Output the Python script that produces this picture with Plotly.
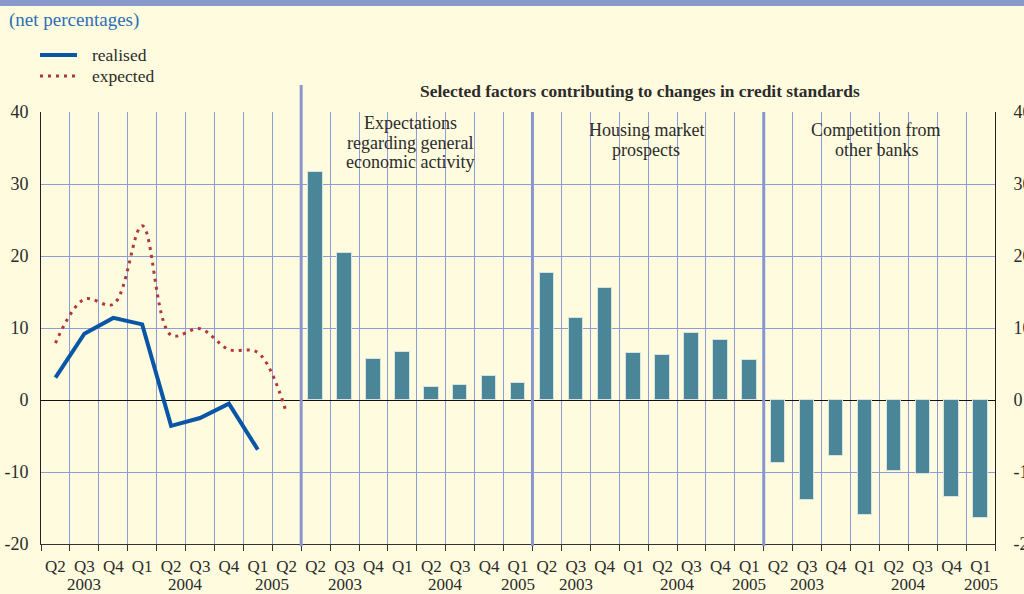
import plotly.graph_objects as go

# ---------------- data ----------------
quarters_left = ["Q2", "Q3", "Q4", "Q1", "Q2", "Q3", "Q4", "Q1", "Q2"]
years_left = [("2003", 1.5), ("2004", 5.0), ("2005", 8.0)]
realised = [3.1, 9.2, 11.4, 10.5, -3.6, -2.5, -0.5, -6.9, None]
expected = [7.9, 14.0, 13.3, 24.2, 9.0, 9.9, 7.0, 6.6, -1.9]

quarters_bar = ["Q2", "Q3", "Q4", "Q1", "Q2", "Q3", "Q4", "Q1"]
years_bar = [("2003", 1.5), ("2004", 5.0), ("2005", 7.5)]
group_names = [["Expectations", "regarding general", "economic activity"],
               ["Housing market", "prospects"],
               ["Competition from", "other banks"]]
expectations_econ = [31.6, 20.4, 5.7, 6.7, 1.8, 2.1, 3.3, 2.4]
housing_market = [17.6, 11.4, 15.6, 6.5, 6.2, 9.3, 8.4, 5.6]
competition = [-8.8, -13.9, -7.8, -16.0, -9.8, -10.3, -13.5, -16.4]
bar_groups = [expectations_econ, housing_market, competition]

y_ticks = [40, 30, 20, 10, 0, -10, -20]
y_ticktext = ["40", "30", "20", "10", "0", "-10", "-20"]

# ---------------- style ----------------
BG = "#FFFBDE"
GRID = "#8E9CDA"
DIVIDER = "#8A97CF"
BAR = "#4A8698"
BLUE = "#0A56A6"
RED = "#B0383A"
TXT = "#2B2B2B"
FONT = "Liberation Serif"

W, H = 1024, 594
ML, MR, MT, MB = 41, 29, 112, 50
PW, PH = W - ML - MR, H - MT - MB


def px(xp):
    return (xp - ML) / PW


def py(yp):
    return (H - MB - yp) / PH


n_left = len(quarters_left)
n_bar = len(quarters_bar)
offsets = [n_left + g * n_bar for g in range(len(bar_groups))]
x_max = n_left + n_bar * len(bar_groups)

fig = go.Figure()

left_x = [i + 0.5 for i in range(n_left)]
fig.add_trace(go.Scatter(x=left_x, y=realised, mode="lines", name="realised",
                         line=dict(color=BLUE, width=4), connectgaps=False,
                         showlegend=False))
fig.add_trace(go.Scatter(x=left_x, y=expected, mode="lines", name="expected",
                         line=dict(color=RED, width=3, dash="3px,5px",
                                   shape="spline", smoothing=1.0),
                         showlegend=False))

for off, vals in zip(offsets, bar_groups):
    fig.add_trace(go.Bar(x=[off + i + 0.5 for i in range(n_bar)], y=vals,
                         width=0.5, marker=dict(color=BAR, line=dict(color="#D6E2E6", width=1)),
                         showlegend=False, hoverinfo="y"))

# invisible trace for right axis
fig.add_trace(go.Scatter(x=[0.5], y=[0], yaxis="y2", mode="markers",
                         marker=dict(opacity=0), showlegend=False, hoverinfo="skip"))

all_centers = left_x[:]
all_labels = quarters_left[:]
for off in offsets:
    all_centers += [off + i + 0.5 for i in range(n_bar)]
    all_labels += quarters_bar

annotations = []
year_y = py(584)
for lab, xv in years_left:
    annotations.append(dict(x=xv, y=year_y, xref="x", yref="paper", text=lab,
                            showarrow=False, yanchor="middle",
                            font=dict(family=FONT, size=17, color=TXT)))
for off in offsets:
    for lab, xv in years_bar:
        annotations.append(dict(x=off + xv, y=year_y, xref="x", yref="paper", text=lab,
                                showarrow=False, yanchor="middle",
                                font=dict(family=FONT, size=17, color=TXT)))

group_label_pos = [(12.77, [123, 143, 162]), (20.93, [130, 150]), (28.9, [130, 150])]
for lines, (gx, ys) in zip(group_names, group_label_pos):
    for line_txt, gy in zip(lines, ys):
        annotations.append(dict(x=gx, y=py(gy), xref="x", yref="paper",
                                text=line_txt, showarrow=False, yanchor="middle",
                                font=dict(family=FONT, size=18, color=TXT)))

annotations.append(dict(x=px(640), y=py(91), xref="paper", yref="paper",
                        text="<b>Selected factors contributing to changes in credit standards</b>",
                        showarrow=False, yanchor="middle",
                        font=dict(family=FONT, size=17.4, color=TXT)))
annotations.append(dict(x=px(7), y=py(20), xref="paper", yref="paper",
                        text="(net percentages)", showarrow=False,
                        xanchor="left", yanchor="middle",
                        font=dict(family=FONT, size=19, color="#2C6FB7")))
# legend texts
for txt, ly in [("realised", 55), ("expected", 76)]:
    annotations.append(dict(x=px(90), y=py(ly), xref="paper", yref="paper",
                            text=txt, showarrow=False, xanchor="left", yanchor="middle",
                            font=dict(family=FONT, size=17.5, color=TXT)))

shapes = []
shapes.append(dict(type="rect", xref="paper", yref="paper", x0=px(0), x1=px(W),
                   y0=py(0), y1=py(6), fillcolor="#8A99CB",
                   line=dict(width=0), layer="below"))
# legend samples
shapes.append(dict(type="line", xref="paper", yref="paper", x0=px(40), x1=px(77),
                   y0=py(55), y1=py(55), line=dict(color=BLUE, width=4)))
shapes.append(dict(type="line", xref="paper", yref="paper", x0=px(40), x1=px(79),
                   y0=py(76), y1=py(76), line=dict(color=RED, width=3, dash="3px,5px")))
for k, off in enumerate(offsets):
    top = py(85) if k == 0 else 1.0
    shapes.append(dict(type="line", xref="x", yref="paper", x0=off, x1=off, y0=-0.005, y1=top,
                       line=dict(color=DIVIDER, width=3), layer="above"))

fig.update_layout(
    width=W, height=H,
    paper_bgcolor=BG, plot_bgcolor=BG,
    margin=dict(l=ML, r=MR, t=MT, b=MB, autoexpand=False),
    font=dict(family=FONT, size=17, color=TXT),
    bargap=0,
    showlegend=False,
    xaxis=dict(range=[0, x_max], tickmode="array", tickvals=all_centers, ticktext=all_labels,
               ticks="", showgrid=False, zeroline=False, automargin=False,
               showline=True, linecolor="#333333", linewidth=1,
               ticklabelstandoff=7,
               tickfont=dict(family=FONT, size=17, color=TXT),
               minor=dict(tick0=0, dtick=1, ticks="outside", ticklen=6, tickcolor="#333333",
                          showgrid=True, gridcolor=GRID, gridwidth=1)),
    yaxis=dict(range=[-20, 40], tickmode="array", tickvals=y_ticks, ticktext=y_ticktext,
               showgrid=True, gridcolor=GRID, gridwidth=1, automargin=False,
               zeroline=True, zerolinecolor="#111111", zerolinewidth=1,
               showline=True, linecolor="#222222", linewidth=1, ticks="",
               ticklabelstandoff=8,
               tickfont=dict(family=FONT, size=18, color=TXT)),
    yaxis2=dict(range=[-20, 40], tickmode="array", tickvals=y_ticks, ticktext=y_ticktext,
                overlaying="y", side="right", automargin=False,
                showgrid=False, zeroline=False, showline=True, linecolor="#222222",
                linewidth=1, ticks="", ticklabelstandoff=14,
                tickfont=dict(family=FONT, size=18, color=TXT)),
    annotations=annotations,
    shapes=shapes,
)

fig.write_html("out.html", config={"displayModeBar": False},
               post_script="document.body.style.margin='0';document.body.style.overflow='hidden';")
